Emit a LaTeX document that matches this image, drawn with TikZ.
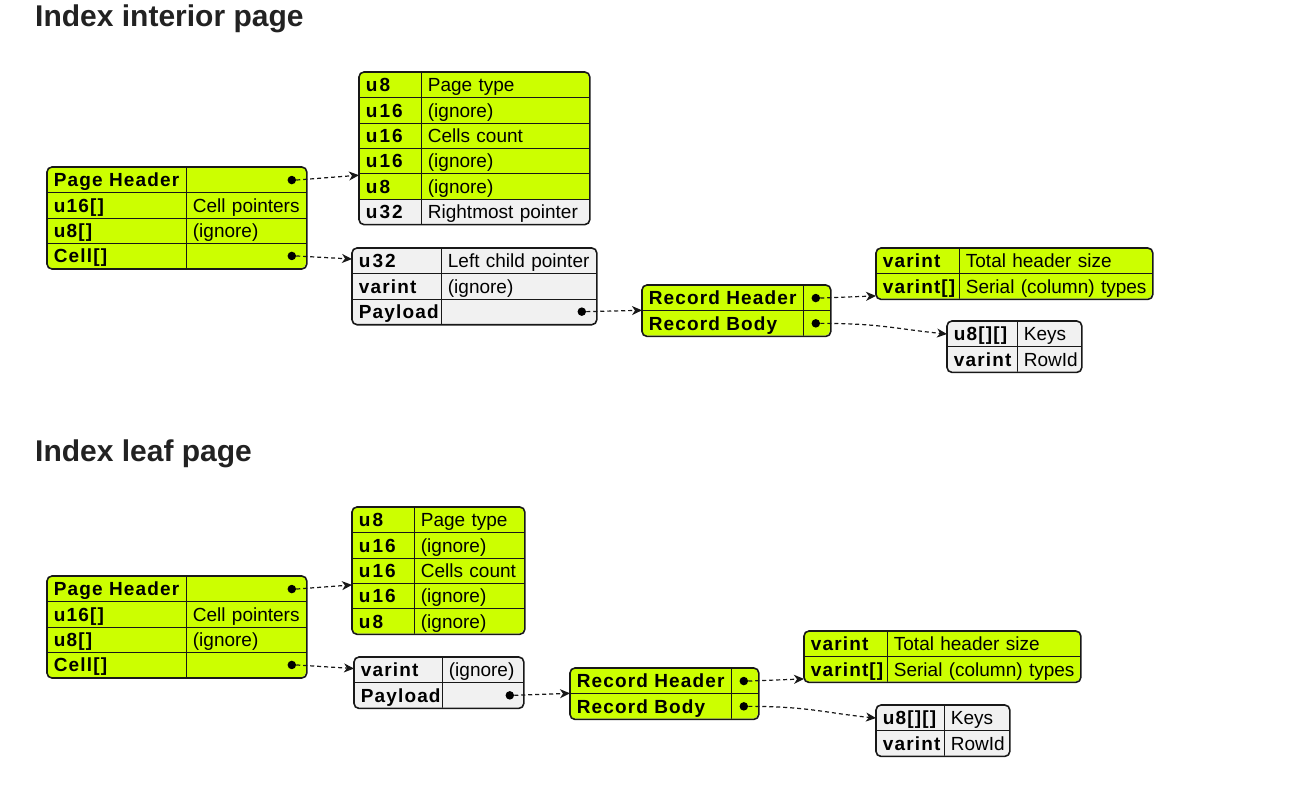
\documentclass[tikz,border=0pt]{standalone}
\usepackage{fontspec}
\setmainfont{Liberation Sans}
\newfontfamily\kfont[LetterSpace=6]{Liberation Sans}
\newfontfamily\kwfont[LetterSpace=11]{Liberation Sans}
\newcommand\uw[1]{{\kwfont\bfseries #1}}
\usetikzlibrary{arrows.meta,calc,fit}
\definecolor{limeg}{HTML}{CCFF00}
\definecolor{greyc}{HTML}{F1F1F1}
\definecolor{bordc}{HTML}{181818}
\definecolor{titlec}{HTML}{222222}
\tikzset{
  cell/.style={draw=bordc, line width=0.8pt, minimum height=25.3pt, inner ysep=0pt,
    inner xsep=6.5pt, text height=13.6pt, text depth=0pt, anchor=north west, align=left},
  kcell/.style={cell, font=\kfont\bfseries\fontsize{19}{22}\selectfont},
  vcell/.style={cell, font=\fontsize{19}{22}\selectfont},
  frame/.style={draw=bordc, line width=1.6pt, rounded corners=5pt, inner sep=0pt},
  dotn/.style={circle, fill=black, inner sep=0pt, minimum size=8.5pt},
  conn/.style={draw=bordc, line width=1.2pt, dash pattern=on 4pt off 3pt,
    -{Stealth[length=10pt,width=9pt,inset=3pt]}},
  title/.style={font=\bfseries\fontsize{30}{36}\selectfont, text=titlec, inner sep=0pt, anchor=base west}
}
\newcommand\drawtable[7]{%
  \pgfmathsetmacro\tkw{#4-#2-13}%
  \pgfmathsetmacro\tvw{#5-#4-13}%
  \pgfmathsetmacro\tyb{#3+#6*25.3}%
  \begin{scope}
    \clip[rounded corners=5pt] (#2,#3) rectangle (#5,\tyb);
    \foreach \ff/\ll/\vv [count=\i] in {#7} {
      \pgfmathsetmacro\yt{#3+(\i-1)*25.3}
      \node[kcell, fill=\ff, text width=\tkw pt] (#1-\i-k) at (#2,\yt) {\mbox{\ll}};
      \node[vcell, fill=\ff, text width=\tvw pt] (#1-\i-v) at (#4,\yt) {\mbox{\vv}};
    }
  \end{scope}
  \node[frame, fit=(#1-1-k)(#1-#6-v)] (#1) {};
}
\begin{document}
\begin{tikzpicture}[x=1pt,y=-1pt]
\useasboundingbox (0,0) rectangle (1312,787);

% ---------- Index interior page ----------
\node[title] (t1) at (35,26) {Index interior page};

\drawtable{A}{47}{167}{186}{306}{4}{limeg/Page Header/{}, limeg/u16[]/Cell pointers, limeg/u8[]/(ignore), limeg/Cell[]/{}}
\drawtable{B}{359}{72}{421}{589}{6}{limeg/\uw{u8}/Page type, limeg/\uw{u16}/(ignore), limeg/\uw{u16}/Cells count, limeg/\uw{u16}/(ignore), limeg/\uw{u8}/(ignore), greyc/\uw{u32}/Rightmost pointer}
\drawtable{C}{352}{248}{441}{596}{3}{greyc/\uw{u32}/Left child pointer, greyc/varint/(ignore), greyc/Payload/{}}
\drawtable{D}{642}{285}{803}{830}{2}{limeg/Record Header/{}, limeg/Record Body/{}}
\drawtable{E}{876}{248}{959}{1152}{2}{limeg/varint/Total header size, limeg/varint[]/Serial (column) types}
\drawtable{F}{947}{321}{1017}{1081}{2}{greyc/u8[][]/Keys, greyc/varint/RowId}

\node[dotn] (A-1-d) at ($(A-1-v.east)+(-15,0)$) {};
\node[dotn] (A-4-d) at ($(A-4-v.east)+(-15,0)$) {};
\node[dotn] (C-3-d) at ($(C-3-v.east)+(-15,0)$) {};
\node[dotn] (D-1-d) at ($(D-1-v.east)+(-15,0)$) {};
\node[dotn] (D-2-d) at ($(D-2-v.east)+(-15,0)$) {};

\draw[conn] (A-1-d.east) -- ($(B-5-k.north west)+(0,2)$);
\draw[conn] (A-4-d.east) -- ($(C-1-k.west)+(0,-2)$);
\draw[conn] (C-3-d.east) -- (D-2-k.north west);
\draw[conn] (D-1-d.east) -- ($(E-2-k.south west)+(0,-3.5)$);
\draw[conn] (D-2-d.east) .. controls ($(D-2-d.east)+(60,0)$) and ($(F-1-k.west)+(-50,-5)$) .. (F-1-k.west);

% ---------- Index leaf page ----------
\node[title] (t2) at (35,461) {Index leaf page};

\drawtable{A2}{47}{576}{186}{306}{4}{limeg/Page Header/{}, limeg/u16[]/Cell pointers, limeg/u8[]/(ignore), limeg/Cell[]/{}}
\drawtable{B2}{352}{507}{414}{524}{5}{limeg/\uw{u8}/Page type, limeg/\uw{u16}/(ignore), limeg/\uw{u16}/Cells count, limeg/\uw{u16}/(ignore), limeg/\uw{u8}/(ignore)}
\drawtable{C2}{354}{657}{442}{523}{2}{greyc/varint/(ignore), greyc/Payload/{}}
\drawtable{D2}{570}{668}{731}{758}{2}{limeg/Record Header/{}, limeg/Record Body/{}}
\drawtable{E2}{804}{631}{887}{1080}{2}{limeg/varint/Total header size, limeg/varint[]/Serial (column) types}
\drawtable{F2}{876}{705}{944}{1009}{2}{greyc/u8[][]/Keys, greyc/varint/RowId}

\node[dotn] (A2-1-d) at ($(A2-1-v.east)+(-15,0)$) {};
\node[dotn] (A2-4-d) at ($(A2-4-v.east)+(-15,0)$) {};
\node[dotn] (C2-2-d) at ($(C2-2-v.east)+(-14,0)$) {};
\node[dotn] (D2-1-d) at ($(D2-1-v.east)+(-15,0)$) {};
\node[dotn] (D2-2-d) at ($(D2-2-v.east)+(-15,0)$) {};

\draw[conn] (A2-1-d.east) -- ($(B2-4-k.north west)+(0,2)$);
\draw[conn] (A2-4-d.east) -- ($(C2-1-k.west)+(0,-1.5)$);
\draw[conn] (C2-2-d.east) -- (D2-2-k.north west);
\draw[conn] (D2-1-d.east) -- ($(E2-2-k.south west)+(0,-3.5)$);
\draw[conn] (D2-2-d.east) .. controls ($(D2-2-d.east)+(60,0)$) and ($(F2-1-k.west)+(-50,-5)$) .. (F2-1-k.west);
\end{tikzpicture}
\end{document}
